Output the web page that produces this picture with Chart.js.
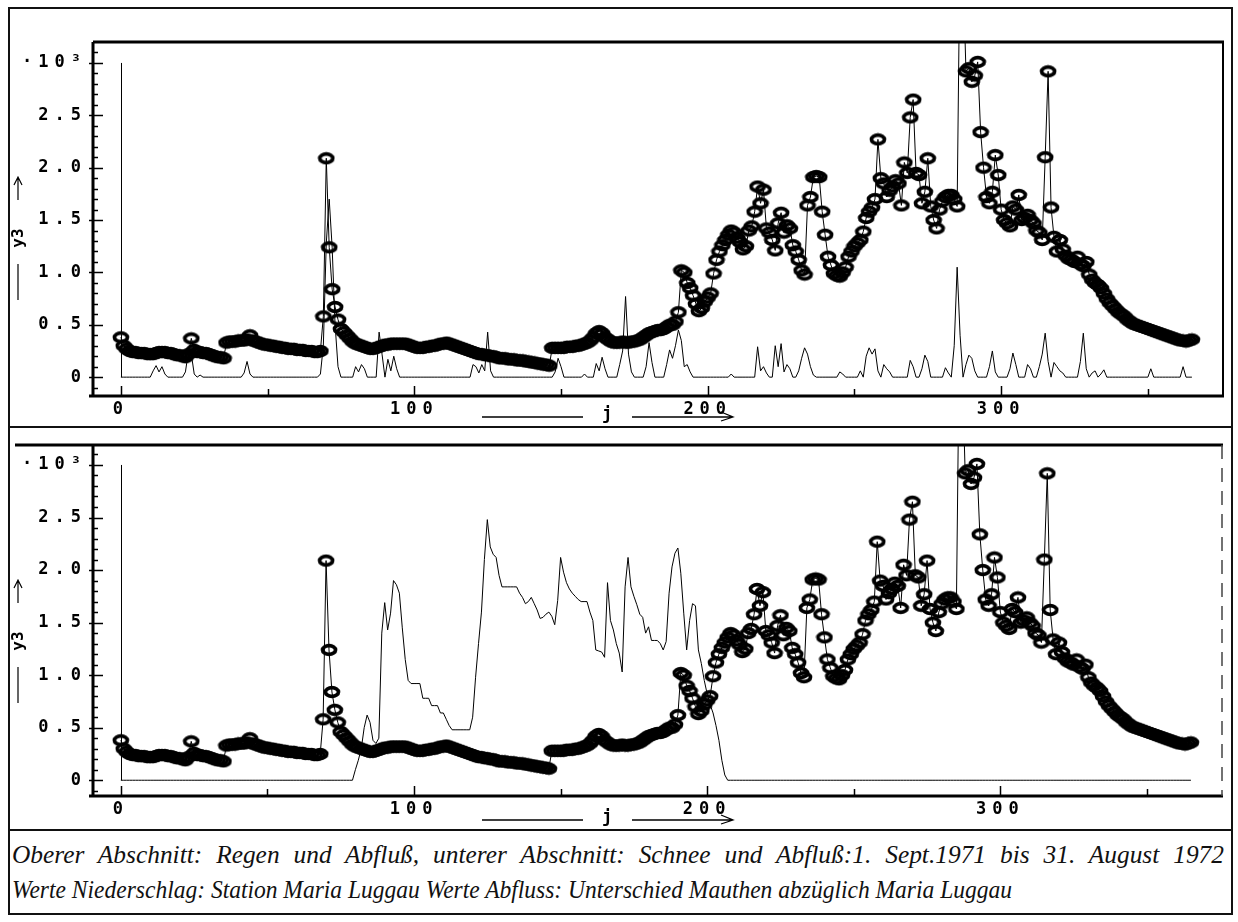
<!DOCTYPE html>
<html>
<head>
<meta charset="utf-8">
<script src="https://cdn.jsdelivr.net/npm/chart.js@4.4.1/dist/chart.umd.min.js"></script>
<style>
  html, body { margin: 0; padding: 0; background: #fff; }
  #page { position: relative; width: 1238px; height: 922px; overflow: hidden; background: #fff; }
  .rule { position: absolute; background: #111; }
  canvas { position: absolute; left: 0; }
  .cap { position: absolute; left: 12px; font-family: "Liberation Serif", "DejaVu Serif", serif; font-style: italic;
         font-size: 26px; line-height: 1; color: #111; white-space: nowrap; transform-origin: 0 50%; }
</style>
</head>
<body>
<div id="page">
  <canvas id="chartTop" width="1238" height="428" style="top:0px;width:1238px;height:428px"></canvas>
  <canvas id="chartBottom" width="1238" height="402" style="top:428px;width:1238px;height:402px"></canvas>

  <div class="rule" style="left:8px;top:7px;width:1225px;height:2px"></div>
  <div class="rule" style="left:8px;top:7px;width:2px;height:908px"></div>
  <div class="rule" style="left:1231px;top:7px;width:2px;height:908px"></div>
  <div class="rule" style="left:8px;top:913px;width:1225px;height:2px"></div>
  <div class="rule" style="left:8px;top:426px;width:1225px;height:2px"></div>
  <div class="rule" style="left:8px;top:829px;width:1225px;height:2px"></div>

  <div class="cap" id="cap1" style="top:842px">Oberer Abschnitt: Regen und Abfluß, unterer Abschnitt: Schnee und Abfluß:1. Sept.1971 bis 31. August 1972</div>
  <div class="cap" id="cap2" style="top:877px">Werte Niederschlag: Station Maria Luggau Werte Abfluss: Unterschied Mauthen abzüglich Maria Luggau</div>
</div>

<script>
// Day index j of the hydrological year (1 Sept 1971 = 0)
const DAYS = Array.from({ length: 366 }, (_, i) => i);

// Axis tick values
const X_TICKS = [0, 100, 200, 300];
const X_MINOR_TICKS = [50, 150, 250, 350];
const Y_TICKS = [0, 0.5, 1.0, 1.5, 2.0, 2.5, 3.0];

// Daily discharge (·10³)
const DISCHARGE = [
  0.38,0.30,0.27,0.25,0.24,0.24,0.23,0.23,0.23,0.22,
  0.22,0.22,0.23,0.24,0.24,0.24,0.23,0.23,0.22,0.21,
  0.21,0.20,0.19,0.22,0.37,0.26,0.24,0.24,0.23,0.23,
  0.22,0.21,0.20,0.19,0.19,0.18,0.33,0.34,0.34,0.34,
  0.35,0.35,0.35,0.36,0.40,0.35,0.34,0.33,0.32,0.31,
  0.31,0.30,0.30,0.29,0.29,0.28,0.28,0.27,0.27,0.27,
  0.26,0.26,0.26,0.25,0.25,0.25,0.24,0.24,0.25,0.58,
  2.09,1.24,0.84,0.67,0.55,0.46,0.43,0.40,0.37,0.34,
  0.32,0.31,0.30,0.29,0.28,0.27,0.27,0.28,0.29,0.30,
  0.31,0.31,0.32,0.32,0.32,0.32,0.32,0.32,0.31,0.30,
  0.29,0.28,0.28,0.28,0.29,0.29,0.30,0.30,0.31,0.32,
  0.32,0.33,0.32,0.31,0.30,0.29,0.28,0.27,0.26,0.25,
  0.24,0.23,0.22,0.22,0.21,0.21,0.20,0.20,0.19,0.18,
  0.18,0.18,0.17,0.17,0.17,0.16,0.16,0.16,0.15,0.15,
  0.14,0.14,0.13,0.13,0.12,0.12,0.11,0.28,0.28,0.28,
  0.28,0.28,0.29,0.29,0.29,0.30,0.30,0.31,0.32,0.33,
  0.35,0.38,0.42,0.44,0.42,0.38,0.36,0.34,0.33,0.33,
  0.33,0.34,0.33,0.33,0.34,0.34,0.35,0.36,0.38,0.40,
  0.42,0.43,0.44,0.45,0.45,0.46,0.48,0.50,0.50,0.53,
  0.62,1.02,1.00,0.90,0.85,0.78,0.70,0.63,0.66,0.72,
  0.76,0.80,0.99,1.12,1.20,1.26,1.31,1.36,1.40,1.38,
  1.33,1.29,1.22,1.25,1.40,1.44,1.58,1.82,1.66,1.79,
  1.42,1.38,1.31,1.21,1.47,1.57,1.38,1.45,1.42,1.26,
  1.20,1.12,1.02,0.98,1.64,1.72,1.91,1.92,1.91,1.58,
  1.36,1.15,1.07,0.99,0.97,0.96,1.00,1.05,1.15,1.20,
  1.25,1.28,1.31,1.39,1.52,1.58,1.62,1.70,2.27,1.90,
  1.85,1.72,1.78,1.82,1.88,1.85,1.64,2.05,1.95,2.48,
  2.65,1.95,1.93,1.66,1.77,2.09,1.63,1.50,1.42,1.60,
  1.68,1.72,1.74,1.74,1.70,1.63,4.20,3.90,2.92,2.95,
  2.82,2.88,3.01,2.34,2.00,1.72,1.66,1.77,2.12,1.93,
  1.60,1.50,1.47,1.44,1.63,1.60,1.74,1.50,1.52,1.55,
  1.50,1.47,1.40,1.38,1.31,2.10,2.92,1.62,1.34,1.20,
  1.31,1.22,1.16,1.13,1.12,1.10,1.15,1.08,1.06,1.10,
  0.98,0.93,0.90,0.88,0.85,0.80,0.75,0.71,0.68,0.65,
  0.62,0.60,0.58,0.55,0.53,0.51,0.50,0.49,0.48,0.47,
  0.46,0.45,0.44,0.43,0.42,0.41,0.40,0.39,0.38,0.37,
  0.36,0.35,0.35,0.34,0.35,0.36
];

// Daily rainfall, Maria Luggau
const RAIN = [
  0,0,0,0,0,0,0,0,0,0,
  0,0.06,0.11,0.05,0.10,0.03,0,0,0,0,
  0,0,0.05,0.24,0.22,0.03,0,0.02,0,0,
  0,0,0,0,0,0,0,0,0,0,
  0,0,0.04,0.15,0.03,0,0,0,0,0,
  0,0,0,0,0,0,0,0,0,0,
  0,0,0,0,0,0,0,0,0.03,0.30,
  1.28,1.70,1.24,0.50,0.10,0,0,0,0,0,
  0.10,0.05,0.12,0.08,0,0,0,0,0.43,0.22,
  0,0.17,0.06,0.20,0.08,0,0,0,0,0,
  0,0,0,0,0,0,0,0,0,0,
  0,0,0,0,0,0,0,0,0,0,
  0.12,0.10,0.04,0.12,0.06,0.43,0.06,0,0,0,
  0,0,0,0,0,0,0,0,0,0,
  0,0,0,0,0,0,0,0,0.05,0.18,
  0.10,0,0,0,0,0,0,0,0.03,0,
  0,0,0.13,0.06,0.19,0.08,0,0,0,0,
  0.12,0.25,0.77,0.22,0.05,0,0,0,0,0.10,
  0.33,0.14,0,0,0,0,0.12,0.26,0.18,0.30,
  0.45,0.35,0.10,0.12,0.05,0,0,0,0,0,
  0,0,0,0,0,0,0,0,0.03,0,
  0,0,0,0,0,0,0,0.29,0.06,0.10,
  0.04,0,0,0.30,0.10,0.32,0.05,0.12,0.08,0,
  0,0.06,0.18,0.28,0.22,0.10,0.02,0,0,0,
  0,0,0,0,0,0.05,0.03,0,0,0,
  0,0,0.06,0,0.20,0.28,0.22,0.27,0.06,0,
  0.12,0.08,0.05,0,0,0,0,0,0,0.16,
  0.10,0,0,0.08,0.21,0.15,0,0,0,0,
  0,0.09,0.04,0,0.30,1.05,0.40,0,0.12,0.21,
  0.18,0.06,0,0,0,0,0.10,0.25,0.05,0,
  0,0,0,0.08,0.23,0.12,0,0,0,0.12,
  0.08,0,0,0.10,0.22,0.42,0.15,0,0.14,0.10,
  0.06,0.04,0,0,0,0,0,0.15,0.42,0.08,
  0,0.04,0.06,0,0.03,0.07,0,0,0,0,
  0,0,0,0,0,0,0,0,0,0,
  0,0.08,0,0,0,0,0,0,0,0,
  0,0,0.10,0,0,0
];

// Daily snow, Maria Luggau
const SNOW = [
  0,0,0,0,0,0,0,0,0,0,
  0,0,0,0,0,0,0,0,0,0,
  0,0,0,0,0,0,0,0,0,0,
  0,0,0,0,0,0,0,0,0,0,
  0,0,0,0,0,0,0,0,0,0,
  0,0,0,0,0,0,0,0,0,0,
  0,0,0,0,0,0,0,0,0,0,
  0,0,0,0,0,0,0,0,0,0,
  0.10,0.19,0.30,0.50,0.62,0.55,0.38,0.35,0.40,1.40,
  1.69,1.43,1.59,1.90,1.86,1.78,1.45,1.15,0.95,0.92,
  0.92,0.92,0.92,0.78,0.78,0.78,0.71,0.71,0.71,0.64,
  0.64,0.58,0.52,0.48,0.48,0.48,0.48,0.48,0.48,0.48,
  0.60,0.98,1.30,1.60,2.10,2.48,2.22,2.15,2.12,1.95,
  1.84,1.84,1.84,1.84,1.84,1.84,1.78,1.74,1.68,1.70,
  1.74,1.68,1.62,1.54,1.55,1.58,1.60,1.56,1.48,1.71,
  2.12,1.98,1.88,1.82,1.78,1.75,1.72,1.70,1.70,1.70,
  1.60,1.52,1.24,1.23,1.22,1.17,1.88,1.52,1.43,1.30,
  1.21,1.03,1.84,2.12,1.84,1.75,1.67,1.58,1.55,1.40,
  1.46,1.33,1.33,1.33,1.30,1.24,1.32,1.78,2.03,2.16,
  2.21,1.97,1.59,1.24,1.52,1.68,1.66,1.24,1.11,0.95,
  0.82,0.72,0.64,0.52,0.38,0.19,0.05,0,0,0,
  0,0,0,0,0,0,0,0,0,0,
  0,0,0,0,0,0,0,0,0,0,
  0,0,0,0,0,0,0,0,0,0,
  0,0,0,0,0,0,0,0,0,0,
  0,0,0,0,0,0,0,0,0,0,
  0,0,0,0,0,0,0,0,0,0,
  0,0,0,0,0,0,0,0,0,0,
  0,0,0,0,0,0,0,0,0,0,
  0,0,0,0,0,0,0,0,0,0,
  0,0,0,0,0,0,0,0,0,0,
  0,0,0,0,0,0,0,0,0,0,
  0,0,0,0,0,0,0,0,0,0,
  0,0,0,0,0,0,0,0,0,0,
  0,0,0,0,0,0,0,0,0,0,
  0,0,0,0,0,0,0,0,0,0,
  0,0,0,0,0,0
];

// Heavy open elliptical plot marker
const marker = document.createElement('canvas');
marker.width = 18; marker.height = 14;
(() => {
  const m = marker.getContext('2d');
  m.lineWidth = 3.7;
  m.strokeStyle = '#000';
  m.beginPath();
  m.ellipse(9, 7, 6.5, 4.3, 0, 0, Math.PI * 2);
  m.stroke();
})();

const TICK_FONT = { family: '"DejaVu Sans Mono", "Liberation Mono", monospace', size: 17, weight: 'bold' };

// Wide letter spacing for the plotter-style tick numbers
const tickSpacing = {
  id: 'tickSpacing',
  beforeDraw(chart) { chart.ctx.letterSpacing = '6px'; },
  beforeDatasetsDraw(chart) { chart.ctx.letterSpacing = '0px'; }
};

// Vertical origin axis at j = 0 up to 3.0
const originAxis = {
  id: 'originAxis',
  beforeDatasetsDraw(chart) {
    const { ctx, scales: { x, y } } = chart;
    ctx.save();
    ctx.strokeStyle = '#000';
    ctx.lineWidth = 1;
    const px = Math.round(x.getPixelForValue(0)) + 0.5;
    ctx.beginPath();
    ctx.moveTo(px, y.getPixelForValue(3));
    ctx.lineTo(px, y.getPixelForValue(0));
    ctx.stroke();
    ctx.restore();
  }
};

// Plot frame, inward tick marks and axis captions
const frameAndMarks = {
  id: 'frameAndMarks',
  afterDraw(chart, args, opts) {
    const { ctx, chartArea: a, scales: { x, y } } = chart;
    ctx.save();
    ctx.letterSpacing = '0px';
    ctx.strokeStyle = '#000';
    ctx.fillStyle = '#000';

    // frame
    ctx.lineWidth = 3;
    ctx.beginPath();
    ctx.moveTo(opts.topFrom, a.top); ctx.lineTo(a.right + 1, a.top);
    ctx.moveTo(a.left, a.top); ctx.lineTo(a.left, a.bottom);
    ctx.moveTo(a.left - 4, a.bottom); ctx.lineTo(a.right + 1, a.bottom);
    ctx.stroke();
    ctx.lineWidth = opts.rightWidth;
    if (opts.rightDash) ctx.setLineDash(opts.rightDash);
    ctx.strokeStyle = opts.rightColor;
    ctx.beginPath();
    ctx.moveTo(a.right, a.top); ctx.lineTo(a.right, a.bottom);
    ctx.stroke();
    ctx.setLineDash([]);
    ctx.strokeStyle = '#000';

    // y ticks: minor every 0.1, major every 0.5
    ctx.lineWidth = 1.5;
    ctx.beginPath();
    for (let k = -1; k <= 32; k++) {
      const v = k / 10;
      const py = Math.round(y.getPixelForValue(v)) + 0.5;
      if (py < a.top + 2 || py > a.bottom - 2) continue;
      const major = k % 5 === 0;
      ctx.moveTo(major ? a.left - 4 : a.left, py);
      ctx.lineTo(a.left + (major ? 10 : 5), py);
    }
    ctx.stroke();

    // x ticks
    ctx.beginPath();
    X_TICKS.forEach(v => {
      const px = Math.round(x.getPixelForValue(v)) + 0.5;
      ctx.moveTo(px, a.bottom); ctx.lineTo(px, a.bottom - 10);
    });
    X_MINOR_TICKS.forEach(v => {
      const px = Math.round(x.getPixelForValue(v)) + 0.5;
      ctx.moveTo(px, a.bottom); ctx.lineTo(px, a.bottom - 7);
    });
    ctx.stroke();

    // x caption: ——— j ———>
    const ty = a.bottom + opts.jOffset;
    const jx = a.left + 514;
    ctx.lineWidth = 1.3;
    ctx.beginPath();
    ctx.moveTo(jx - 125, ty); ctx.lineTo(jx - 24, ty);
    ctx.moveTo(jx + 25, ty); ctx.lineTo(jx + 126, ty);
    ctx.moveTo(jx + 114, ty - 5); ctx.lineTo(jx + 126, ty); ctx.lineTo(jx + 114, ty + 4);
    ctx.stroke();
    ctx.font = 'bold 17px "DejaVu Sans Mono", monospace';
    ctx.textAlign = 'center';
    ctx.textBaseline = 'middle';
    ctx.fillText('j', jx, ty - 2);

    // y caption: arrow, y3, bar
    const cx = 18;
    ctx.lineWidth = 1.2;
    ctx.beginPath();
    ctx.moveTo(cx, a.top + 158); ctx.lineTo(cx, a.top + 135);
    ctx.moveTo(cx - 4, a.top + 143); ctx.lineTo(cx, a.top + 135); ctx.lineTo(cx + 4, a.top + 143);
    ctx.moveTo(cx, a.top + 222); ctx.lineTo(cx, a.top + 258);
    ctx.stroke();
    ctx.translate(cx + 1, a.top + 196);
    ctx.rotate(-Math.PI / 2);
    ctx.font = 'bold 16px "DejaVu Sans Mono", monospace';
    ctx.fillText('y3', 0, 0);
    ctx.restore();
  }
};

function buildChart(canvasId, precip, precipLabel, cfg) {
  return new Chart(document.getElementById(canvasId), {
    type: 'line',
    data: {
      datasets: [
        {
          label: 'Abfluss',
          data: DAYS.map((d, i) => ({ x: d, y: DISCHARGE[i] })),
          borderColor: '#000',
          borderWidth: 1,
          pointStyle: marker,
          pointRadius: 6,
          pointHoverRadius: 6,
          tension: 0,
          clip: 0
        },
        {
          label: precipLabel,
          data: DAYS.map((d, i) => ({ x: d, y: precip[i] })),
          borderColor: '#000',
          borderWidth: 1,
          pointRadius: 0,
          tension: 0,
          clip: 0
        }
      ]
    },
    options: {
      responsive: false,
      animation: false,
      events: [],
      layout: { padding: { left: 0, top: cfg.top, right: cfg.right, bottom: 0 } },
      plugins: {
        legend: { display: false },
        tooltip: { enabled: false },
        frameAndMarks: cfg.frame
      },
      scales: {
        x: {
          type: 'linear',
          min: -9.5,
          max: 375.6,
          grid: { display: false, drawTicks: false },
          border: { display: false },
          afterBuildTicks: s => { s.ticks = X_TICKS.map(v => ({ value: v })); },
          afterFit: s => { s.height = cfg.xAxisHeight; },
          ticks: { autoSkip: false, maxRotation: 0, padding: cfg.xPad, color: '#000', font: TICK_FONT,
                   callback: v => String(v) }
        },
        y: {
          type: 'linear',
          min: cfg.yMin,
          max: cfg.yMax,
          grid: { display: false, drawTicks: false },
          border: { display: false },
          afterBuildTicks: s => { s.ticks = Y_TICKS.map(v => ({ value: v })); },
          afterFit: s => { s.width = 93; },
          ticks: { padding: 6, color: '#000', font: TICK_FONT,
                   callback: v => v === 3 ? '\u00B710\u00B3' : (v === 0 ? '0' : v.toFixed(1)) }
        }
      }
    },
    plugins: [tickSpacing, originAxis, frameAndMarks]
  });
}

// Upper section: rain and discharge
buildChart('chartTop', RAIN, 'Regen', {
  top: 42, right: 15, xAxisHeight: 32, xPad: 3,
  yMin: -0.18, yMax: 3.2,
  frame: { topFrom: 93, rightWidth: 2, rightColor: '#000', rightDash: null, jOffset: 21 }
});

// Lower section: snow and discharge
buildChart('chartBottom', SNOW, 'Schnee', {
  top: 17, right: 16, xAxisHeight: 34, xPad: 3,
  yMin: -0.15, yMax: 3.19,
  frame: { topFrom: 15, rightWidth: 1.5, rightColor: '#444', rightDash: [14, 9], jOffset: 24 }
});

// Caption: condensed face; the first line is justified to the full width
const cap1 = document.getElementById('cap1');
const cap2 = document.getElementById('cap2');
const squeeze = 1000 / cap2.getBoundingClientRect().width;
cap2.style.transform = 'scaleX(' + squeeze + ')';
const s1 = squeeze * 1.08;
const w1 = cap1.getBoundingClientRect().width;
const gaps = (cap1.textContent.match(/ /g) || []).length;
cap1.style.wordSpacing = Math.max(0, (1212 / s1 - w1) / gaps) + 'px';
cap1.style.transform = 'scaleX(' + s1 + ')';
</script>
</body>
</html>
